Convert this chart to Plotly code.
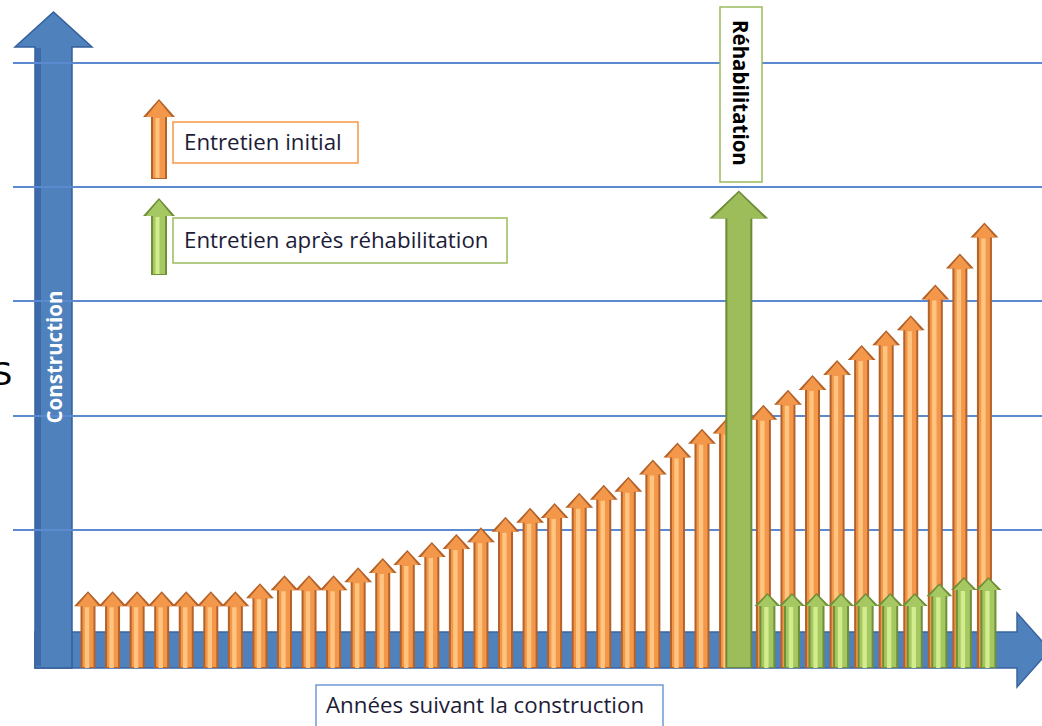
import plotly.graph_objects as go

# Coûts annuels d'entretien (unités relatives) selon l'année après construction
annees_initial = list(range(1, 28))          # années 1 à 27 : entretien initial
entretien_initial = [6.7, 6.7, 6.7, 6.7, 6.7, 6.7, 6.7, 7.4, 8.1, 8.1, 8.1,
                     8.8, 9.6, 10.3, 11.0, 11.7, 12.3, 13.2, 14.0, 14.4, 15.3,
                     16.0, 16.7, 18.2, 19.7, 20.9, 21.8]
annees_suite = list(range(28, 38))           # années 28 à 37
entretien_initial_suite = [23.0, 24.3, 25.6, 26.9, 28.2, 29.5, 30.8, 33.5, 36.2, 38.9]
entretien_apres = [6.55, 6.55, 6.55, 6.55, 6.55, 6.55, 6.55, 7.4, 7.95, 7.95]
annee_rehab = 27
cout_rehab = 41.7
graduations = [12.05, 22.0, 32.05, 42.0, 52.8]

# ---- page geometry (pixels) ----
W, H = 1042, 726
ML = 13                     # left margin of the plotting area
X0_PX, SLOT_PX = 88, 24.56  # pixel of year 1, pixels per year
Y0_PX, UNIT_PX = 668, 11.45 # pixel of value 0, pixels per unit

x_range = [1 - (X0_PX - ML) / SLOT_PX, 1 + (W - X0_PX) / SLOT_PX]
y_range = [-(H - Y0_PX) / UNIT_PX, Y0_PX / UNIT_PX]

ORANGE = ("#b4622a", "#f3984a", "#ffc47f")
VERT = ("#6f8f38", "#a6c862", "#d3ec8d")
FONT = "Open Sans"


def dx(px):
    return px / SLOT_PX


def dy(px):
    return px / UNIT_PX


def pos_suite(a):
    # the years after rehabilitation are shifted half a slot to make room
    return a + 0.5


def arrows(xs, vals, shaft, head, head_len, inset=0.0, tip_drop=0.0):
    """Arrow outlines in data units; shaft/head are half-widths in pixels."""
    px_, py_ = [], []
    sh, hh, hl = dx(shaft - inset), dx(head - inset * 1.5), dy(head_len)
    bottom = dy(inset * 0.5)
    for x, v in zip(xs, vals):
        top = v - dy(tip_drop)
        base = v - hl
        px_ += [x - sh, x - sh, x - hh, x, x + hh, x + sh, x + sh, x - sh, None]
        py_ += [bottom, base, base, top, base, base, bottom, bottom, None]
    return px_, py_


def stripes(xs, vals, off, half, head_len):
    px_, py_ = [], []
    for x, v in zip(xs, vals):
        a, b = x + dx(off - half), x + dx(off + half)
        top = v - dy(head_len)
        px_ += [a, a, b, b, a, None]
        py_ += [0, top, top, 0, 0, None]
    return px_, py_


def poly(xy, color):
    return go.Scatter(x=xy[0], y=xy[1], mode="lines", fill="toself",
                      fillcolor=color, line=dict(width=0, color=color),
                      hoverinfo="skip", showlegend=False)


def shaded(xs, vals, shaft, head, head_len, colors):
    dark, mid, light = colors
    return [
        poly(arrows(xs, vals, shaft, head, head_len), dark),
        poly(arrows(xs, vals, shaft, head, head_len, inset=2.0, tip_drop=2.0), mid),
        poly(stripes(xs, vals, -1.0, 2.2, head_len + 1), light),
    ]


fig = go.Figure()

# orange : entretien initial
x_orange = annees_initial + [pos_suite(a) for a in annees_suite]
v_orange = entretien_initial + entretien_initial_suite
for tr in shaded(x_orange, v_orange, 7.5, 14, 15, ORANGE):
    fig.add_trace(tr)

# vert : réhabilitation
x_rehab = [annee_rehab + 0.5]
fig.add_trace(poly(arrows(x_rehab, [cout_rehab], 13.5, 29.5, 28), "#6d8a37"))
fig.add_trace(poly(arrows(x_rehab, [cout_rehab], 13.5, 29.5, 28, inset=2.0, tip_drop=2.0),
                   "#9dbd5b"))

# vert : entretien après réhabilitation
x_vert = [pos_suite(a) + dx(4) for a in annees_suite]
for tr in shaded(x_vert, entretien_apres, 8, 13, 13, VERT):
    fig.add_trace(tr)


# ---- decorations in pixel coordinates ----
def to_paper(x, y):
    return (x - ML) / (W - ML), 1 - y / H


def path(points):
    pts = [to_paper(x, y) for x, y in points]
    return "M" + " L".join(f"{x:.5f},{y:.5f}" for x, y in pts) + " Z"


def path_shape(points, color, layer="between", line=None):
    return dict(type="path", xref="paper", yref="paper", layer=layer,
                path=path(points), fillcolor=color,
                line=line or dict(width=0))


shapes = [
    # horizontal axis arrow
    path_shape([(35, 632), (1017, 632), (1017, 613), (1050, 650),
                (1017, 687), (1017, 668), (35, 668)], "#4f81bd",
               line=dict(color="#3a64a0", width=1.5)),
    # vertical axis arrow
    path_shape([(35, 668), (35, 47), (15, 47), (53.5, 12), (92, 47),
                (72, 47), (72, 668)], "#4f81bd",
               line=dict(color="#355f9c", width=1.5)),
    path_shape([(36, 666), (36, 48), (41, 48), (41, 666)], "#3d6aa8"),
]


def legend_arrow(tip, bottom, colors):
    dark, mid, light = colors
    out = [(151, bottom), (151, tip + 18), (143, tip + 18), (159, tip),
           (175, tip + 18), (167, tip + 18), (167, bottom)]
    inn = [(153, bottom - 1), (153, tip + 18), (146, tip + 18), (159, tip + 2),
           (172, tip + 18), (165, tip + 18), (165, bottom - 1)]
    hi = [(155.5, bottom - 1), (155.5, tip + 19), (159.5, tip + 19), (159.5, bottom - 1)]
    return [path_shape(out, dark, "above"), path_shape(inn, mid, "above"),
            path_shape(hi, light, "above")]


shapes += legend_arrow(99, 179, ORANGE)
shapes += legend_arrow(198, 275, VERT)


def box(x0, y0, x1, y1, color):
    a, b = to_paper(x0, y1)
    c, d = to_paper(x1, y0)
    return dict(type="rect", xref="paper", yref="paper", layer="above",
                x0=a, y0=b, x1=c, y1=d, fillcolor="white",
                line=dict(color=color, width=1.5))


shapes += [box(173, 122, 358, 163, "#f79646"),
           box(173, 218, 507, 263, "#9bbb59"),
           box(720, 7, 762, 182, "#9bbb59"),
           box(316, 685, 663, 732, "#6f9bd6")]


def label(text, x, y, size, color="#1c1c38", anchor="left", angle=0, bold=False,
          family=FONT):
    px, py = to_paper(x, y)
    return dict(text=f"<b>{text}</b>" if bold else text, x=px, y=py,
                xref="paper", yref="paper", showarrow=False,
                xanchor=anchor, yanchor="middle", textangle=angle,
                font=dict(family=family, size=size, color=color))


annotations = [
    label("Entretien initial", 182, 141, 22.3),
    label("Entretien après réhabilitation", 182, 239, 22.3),
    label("Années suivant la construction", 324, 704, 22.3),
    label("Réhabilitation", 741, 93, 20.5, color="black", anchor="center", angle=90, bold=True),
    label("Construction", 53.5, 357, 20.5, color="white", anchor="center", angle=-90, bold=True),
    label("S", 14, 374, 32, color="black", anchor="right", family="DejaVu Sans"),
]

fig.update_layout(
    width=W, height=H, autosize=False,
    margin=dict(l=ML, r=0, t=0, b=0),
    paper_bgcolor="white", plot_bgcolor="white",
    showlegend=False,
    shapes=shapes, annotations=annotations,
    xaxis=dict(range=x_range, showgrid=False, zeroline=False, showticklabels=False,
               ticks="", fixedrange=True),
    yaxis=dict(range=y_range, tickvals=graduations, showgrid=True, gridcolor="#5b8ad0",
               gridwidth=2, zeroline=False, showticklabels=False, ticks="", fixedrange=True),
)

fig.write_html("out.html")
